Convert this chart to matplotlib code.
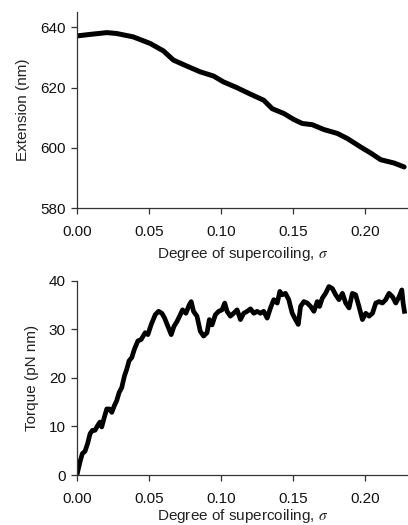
import matplotlib
matplotlib.use("Agg")
import matplotlib.pyplot as plt

plt.rcParams['font.family'] = ['Liberation Sans', 'DejaVu Sans']
plt.rcParams['mathtext.fontset'] = 'stix'

# Extension vs supercoiling (top panel)
ext_sigma = [0.0, 0.009, 0.0207, 0.0276, 0.039, 0.0509, 0.0602, 0.067, 0.0764, 0.0857,
             0.095, 0.1017, 0.111, 0.1206, 0.1298, 0.1357, 0.1438, 0.1508, 0.1566, 0.1635,
             0.1716, 0.181, 0.188, 0.1972, 0.2042, 0.2111, 0.2204, 0.2274]
ext_nm = [637.1, 637.6, 638.2, 637.9, 636.8, 634.6, 632.1, 629.1, 627.1, 625.2,
          623.8, 621.9, 620.0, 617.8, 615.8, 613.0, 611.4, 609.4, 608.1, 607.7,
          606.1, 604.8, 603.1, 600.3, 598.3, 596.1, 595.0, 593.7]

# Torque vs supercoiling (bottom panel)
tq_sigma = [0.0, 0.0005, 0.0021, 0.0037, 0.0056, 0.0074, 0.0091, 0.0107, 0.0125, 0.0144,
            0.016, 0.0172, 0.019, 0.0207, 0.0225, 0.0242, 0.026, 0.0276, 0.0293, 0.0311,
            0.033, 0.0346, 0.0362, 0.0381, 0.0399, 0.0423, 0.0446, 0.0474, 0.0493, 0.0516,
            0.0544, 0.0567, 0.059, 0.0609, 0.0632, 0.0655, 0.0674, 0.0695, 0.0718, 0.0734,
            0.0757, 0.078, 0.0794, 0.081, 0.0834, 0.0857, 0.088, 0.0904, 0.092, 0.0939,
            0.0962, 0.0985, 0.1008, 0.1027, 0.1043, 0.1066, 0.1089, 0.1113, 0.1136, 0.1159,
            0.1183, 0.1206, 0.1229, 0.1252, 0.1275, 0.1298, 0.1322, 0.1345, 0.1368, 0.1392,
            0.141, 0.1426, 0.1449, 0.1472, 0.1496, 0.1519, 0.1538, 0.1554, 0.1577, 0.1601,
            0.1624, 0.1647, 0.167, 0.1686, 0.1705, 0.1728, 0.1751, 0.1775, 0.1798, 0.1821,
            0.1845, 0.1868, 0.1891, 0.1914, 0.1937, 0.196, 0.1984, 0.2007, 0.203, 0.2054,
            0.2077, 0.21, 0.2123, 0.2146, 0.2169, 0.2193, 0.2216, 0.2239, 0.2258, 0.2267,
            0.2276]
tq_pNnm = [0.0, 0.7, 2.7, 4.4, 4.9, 6.5, 8.5, 9.2, 9.2, 10.2,
           10.9, 9.9, 11.9, 13.6, 13.6, 12.9, 14.3, 15.3, 17.0, 18.0,
           20.4, 21.8, 23.5, 24.2, 25.9, 27.6, 27.9, 29.3, 28.9, 31.0,
           33.0, 33.7, 33.3, 32.3, 30.6, 28.9, 30.6, 31.6, 33.0, 34.0,
           33.3, 35.0, 35.7, 33.7, 32.7, 29.6, 28.6, 29.3, 32.0, 30.9,
           33.0, 33.7, 34.0, 35.4, 33.7, 32.7, 33.3, 34.0, 32.0, 33.3,
           33.7, 34.2, 33.3, 33.7, 33.3, 33.7, 32.3, 34.4, 36.1, 35.4,
           37.8, 37.1, 37.4, 36.1, 33.3, 32.0, 31.0, 34.7, 35.7, 35.4,
           34.7, 33.7, 35.7, 34.7, 36.4, 37.4, 38.8, 38.4, 37.1, 36.1,
           37.4, 35.4, 34.4, 37.4, 37.1, 34.7, 32.0, 33.3, 32.7, 33.3,
           35.4, 35.7, 35.4, 36.1, 37.4, 36.7, 35.4, 36.7, 38.1, 35.4,
           33.7]

x_ticks = [0.00, 0.05, 0.10, 0.15, 0.20]
x_ticklabels = ['0.00', '0.05', '0.10', '0.15', '0.20']
ext_ticks = [580, 600, 620, 640]
tq_ticks = [0, 10, 20, 30, 40]

fig = plt.figure(figsize=(4.08, 5.25), dpi=100)
ax1 = fig.add_axes([0.1887, 0.6032, 0.811, 0.3738])
ax2 = fig.add_axes([0.1887, 0.0952, 0.811, 0.3701])

spine_col = '#333333'
for ax in (ax1, ax2):
    for s in ('top', 'right'):
        ax.spines[s].set_visible(False)
    for s in ('left', 'bottom'):
        ax.spines[s].set_color(spine_col)
        ax.spines[s].set_linewidth(0.9)
    ax.tick_params(direction='out', length=4, width=0.9, color=spine_col,
                   labelsize=11, labelcolor='#111111')
    ax.tick_params(axis='x', pad=8)
    ax.tick_params(axis='y', pad=4)
    ax.set_xlim(0, 0.23)
    ax.set_xticks(x_ticks)
    ax.set_xticklabels(x_ticklabels)

ax1.set_xlabel('Degree of supercoiling, $\\sigma$', fontsize=11, color='#222222', labelpad=4)
ax2.set_xlabel('Degree of supercoiling, $\\sigma$', fontsize=11, color='#222222', labelpad=1)

ax1.plot(ext_sigma, ext_nm, color='black', lw=3.6, solid_capstyle='round', solid_joinstyle='round')
ax1.set_ylim(580, 645)
ax1.set_yticks(ext_ticks)
ax1.set_ylabel('Extension (nm)', fontsize=11, color='#222222', labelpad=7.5)

ax2.plot(tq_sigma, tq_pNnm, color='black', lw=3.4, solid_joinstyle='round')
ax2.set_ylim(0, 40)
ax2.set_yticks(tq_ticks)
ax2.set_ylabel('Torque (pN nm)', fontsize=11, color='#222222', labelpad=7)

fig.savefig('out.png', dpi=100)
